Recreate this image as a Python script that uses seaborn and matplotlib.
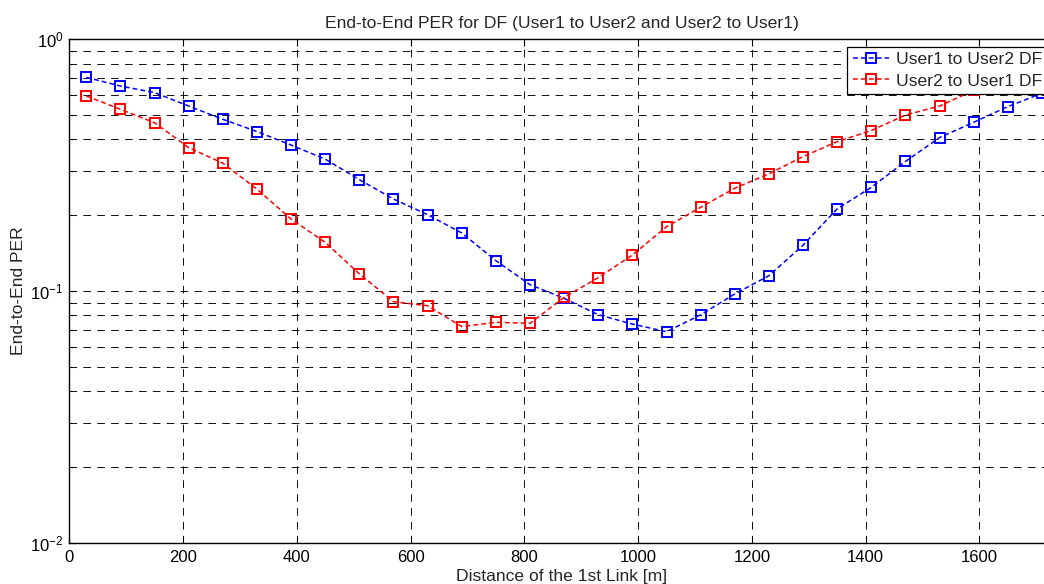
import matplotlib
matplotlib.use("Agg")
import matplotlib.pyplot as plt
import seaborn as sns
import numpy as np
import pandas as pd
from matplotlib.ticker import LogLocator, FixedLocator

# ---- data ----
distance = [30, 90, 150, 210, 270, 330, 390, 450, 510, 570, 630, 690, 750, 810, 870,
            930, 990, 1050, 1110, 1170, 1230, 1290, 1350, 1410, 1470, 1530, 1590, 1650, 1710]
per_u1_u2 = [0.706, 0.652, 0.614, 0.543, 0.481, 0.430, 0.380, 0.334, 0.277, 0.232,
             0.201, 0.170, 0.132, 0.106, 0.0935, 0.0805, 0.0739, 0.0689, 0.0804, 0.0973,
             0.115, 0.152, 0.212, 0.258, 0.327, 0.407, 0.468, 0.540, 0.610]
per_u2_u1 = [0.595, 0.527, 0.466, 0.371, 0.322, 0.254, 0.193, 0.156, 0.117, 0.0907,
             0.0874, 0.0722, 0.0751, 0.0744, 0.0944, 0.113, 0.139, 0.180, 0.215, 0.256,
             0.292, 0.342, 0.392, 0.434, 0.500, 0.543, 0.627, 0.700, 0.770]
series_names = ["User1 to User2 DF", "User2 to User1 DF"]
series_colors = ["#0000ff", "#ff0000"]
x_ticks = [0, 200, 400, 600, 800, 1000, 1200, 1400, 1600]

title = "End-to-End PER for DF (User1 to User2 and User2 to User1)"
xlabel = "Distance of the 1st Link [m]"
ylabel = "End-to-End PER"

sns.set_style("white")
plt.rcParams['font.family'] = ['Liberation Sans', 'DejaVu Sans']
plt.rcParams['mathtext.default'] = 'regular'
plt.rcParams['lines.scale_dashes'] = False

TXT = 12.6
TICK = 12

fig = plt.figure(figsize=(10.44, 5.84), dpi=100)
W, H = 1044, 584
left, right, top, bottom = 69.3, 1054.4, 39.3, 542.7
ax = fig.add_axes([left / W, (H - bottom) / H, (right - left) / W, (bottom - top) / H])

df = pd.DataFrame({
    "distance": distance * 2,
    "per": per_u1_u2 + per_u2_u1,
    "series": [series_names[0]] * len(distance) + [series_names[1]] * len(distance),
})

for name, col in zip(series_names, series_colors):
    sub = df[df["series"] == name]
    sns.lineplot(data=sub, x="distance", y="per", ax=ax, color=col, label=name,
                 linestyle=(0, (3.5, 2.2)), linewidth=1.1, marker="s", markersize=6.6,
                 markerfacecolor="none", markeredgecolor=col, markeredgewidth=1.4,
                 clip_on=True)

ax.set_yscale("log")
ax.set_xlim(0, 1732)
ax.set_ylim(1e-2, 1e0)
ax.xaxis.set_major_locator(FixedLocator(x_ticks))
ax.yaxis.set_major_locator(LogLocator(base=10, numticks=10))
ax.yaxis.set_minor_locator(LogLocator(base=10, subs=np.arange(2, 10), numticks=20))

grid_kw = dict(color="black", linestyle=(0, (5.5, 4.5)), linewidth=0.65)
ax.grid(True, which="major", axis="both", **grid_kw)
ax.grid(True, which="minor", axis="y", **grid_kw)

for s in ax.spines.values():
    s.set_visible(True)
    s.set_color("black")
    s.set_linewidth(1.0)

ax.tick_params(which="both", direction="in", top=True, right=True, left=True, bottom=True,
               colors="black", labelsize=TICK)
ax.tick_params(which="major", length=5, width=0.8)
ax.tick_params(which="minor", length=3, width=0.8)
ax.tick_params(axis="x", pad=5)
ax.tick_params(axis="y", pad=4)

ax.set_title(title, fontsize=TXT, pad=8)
ax.set_xlabel(xlabel, fontsize=TXT)
ax.set_ylabel(ylabel, fontsize=TXT)
ax.xaxis.set_label_coords(0.5, (bottom - 576.5) / (bottom - top))
ax.xaxis.label.set_va("center")
ax.yaxis.set_label_coords((19 - left) / (right - left), 0.5)
ax.yaxis.label.set_va("center")
ax.yaxis.label.set_ha("center")

leg = ax.legend(loc="upper left", bbox_to_anchor=(847.3 / W, (H - 46.7) / H),
                bbox_transform=fig.transFigure, borderaxespad=0, frameon=True,
                fancybox=False, framealpha=1, edgecolor="black", fontsize=TXT,
                handlelength=2.1, handletextpad=0.4, labelspacing=0.35, borderpad=0.3)
leg.get_frame().set_linewidth(0.9)

fig.savefig("out.png", dpi=100, facecolor="white")
